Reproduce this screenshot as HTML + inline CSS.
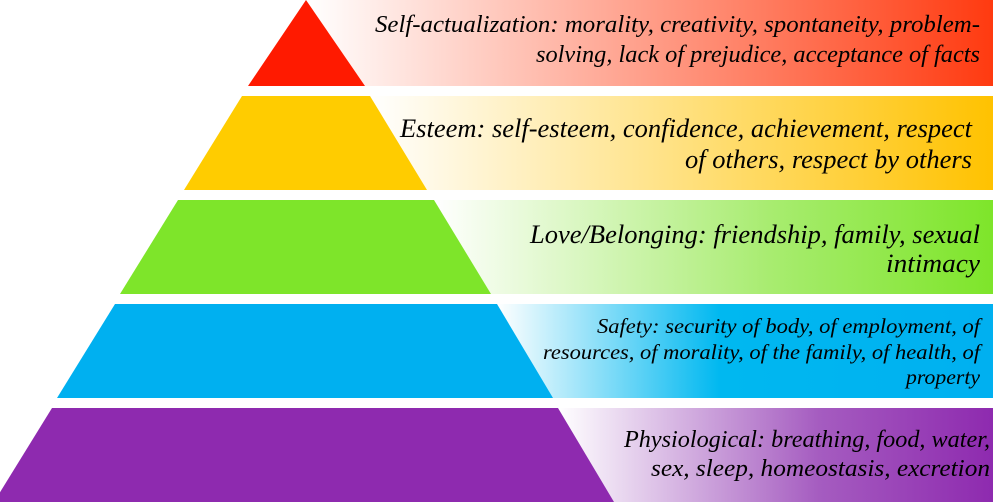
<!DOCTYPE html>
<html><head><meta charset="utf-8"><style>
html,body{margin:0;padding:0;background:#fff;}
svg{display:block;}
text{font-family:"Liberation Serif",serif;font-style:italic;fill:#000;}
</style></head><body>
<svg width="993" height="502" viewBox="0 0 993 502" xmlns="http://www.w3.org/2000/svg">
<defs>
<linearGradient id="gr" x1="0" x2="1"><stop offset="0" stop-color="#fff"/><stop offset="1" stop-color="#ff3a10"/></linearGradient>
<linearGradient id="gy" x1="0" x2="1"><stop offset="0" stop-color="#fff"/><stop offset="1" stop-color="#ffc200"/></linearGradient>
<linearGradient id="gg" x1="0" x2="1"><stop offset="0" stop-color="#fff"/><stop offset="0.6" stop-color="#a8ec70"/><stop offset="1" stop-color="#7ee52a"/></linearGradient>
<linearGradient id="gb" x1="0" x2="1"><stop offset="0" stop-color="#fff"/><stop offset="0.45" stop-color="#00b8f0"/><stop offset="1" stop-color="#00b0f0"/></linearGradient>
<linearGradient id="gp" x1="0" x2="1"><stop offset="0" stop-color="#fff"/><stop offset="0.6" stop-color="#a55cc0"/><stop offset="1" stop-color="#8e2aaf"/></linearGradient>
</defs>
<rect x="308" y="0" width="685" height="86" fill="url(#gr)"/>
<rect x="370" y="96" width="623" height="94" fill="url(#gy)"/>
<rect x="434" y="200" width="559" height="94" fill="url(#gg)"/>
<rect x="497" y="304" width="496" height="94" fill="url(#gb)"/>
<rect x="558" y="408" width="435" height="94" fill="url(#gp)"/>
<polygon points="306,0 365,86 248,86" fill="#ff1a00"/>
<polygon points="242,96 370,96 427,190 184,190" fill="#ffcc00"/>
<polygon points="178,200 434,200 491,294 120,294" fill="#7ee52a"/>
<polygon points="115,304 497,304 553,398 57,398" fill="#00b0f0"/>
<polygon points="52,408 558,408 614,502 -6,502" fill="#8e2aaf"/>
<g font-size="24.5" lengthAdjust="spacingAndGlyphs">
<text x="375" y="32" textLength="605" lengthAdjust="spacingAndGlyphs">Self-actualization: morality, creativity, spontaneity, problem-</text>
<text x="536" y="62" textLength="444" lengthAdjust="spacingAndGlyphs">solving, lack of prejudice, acceptance of facts</text>
</g>
<g font-size="26.5">
<text x="400" y="137" textLength="572" lengthAdjust="spacingAndGlyphs">Esteem: self-esteem, confidence, achievement, respect</text>
<text x="685" y="168" textLength="287" lengthAdjust="spacingAndGlyphs">of others, respect by others</text>
<text x="530" y="243" textLength="450" lengthAdjust="spacingAndGlyphs">Love/Belonging: friendship, family, sexual</text>
<text x="886" y="272" textLength="94" lengthAdjust="spacingAndGlyphs">intimacy</text>
</g>
<g font-size="24.5">
<text x="624" y="447" textLength="366" lengthAdjust="spacingAndGlyphs">Physiological: breathing, food, water,</text>
<text x="651" y="476" textLength="339" lengthAdjust="spacingAndGlyphs">sex, sleep, homeostasis, excretion</text>
</g>
<g font-size="21.5">
<text x="597" y="333" textLength="383" lengthAdjust="spacingAndGlyphs">Safety: security of body, of employment, of</text>
<text x="543" y="359" textLength="437" lengthAdjust="spacingAndGlyphs">resources, of morality, of the family, of health, of</text>
<text x="906" y="384" textLength="74" lengthAdjust="spacingAndGlyphs">property</text>
</g>
</svg>
</body></html>
